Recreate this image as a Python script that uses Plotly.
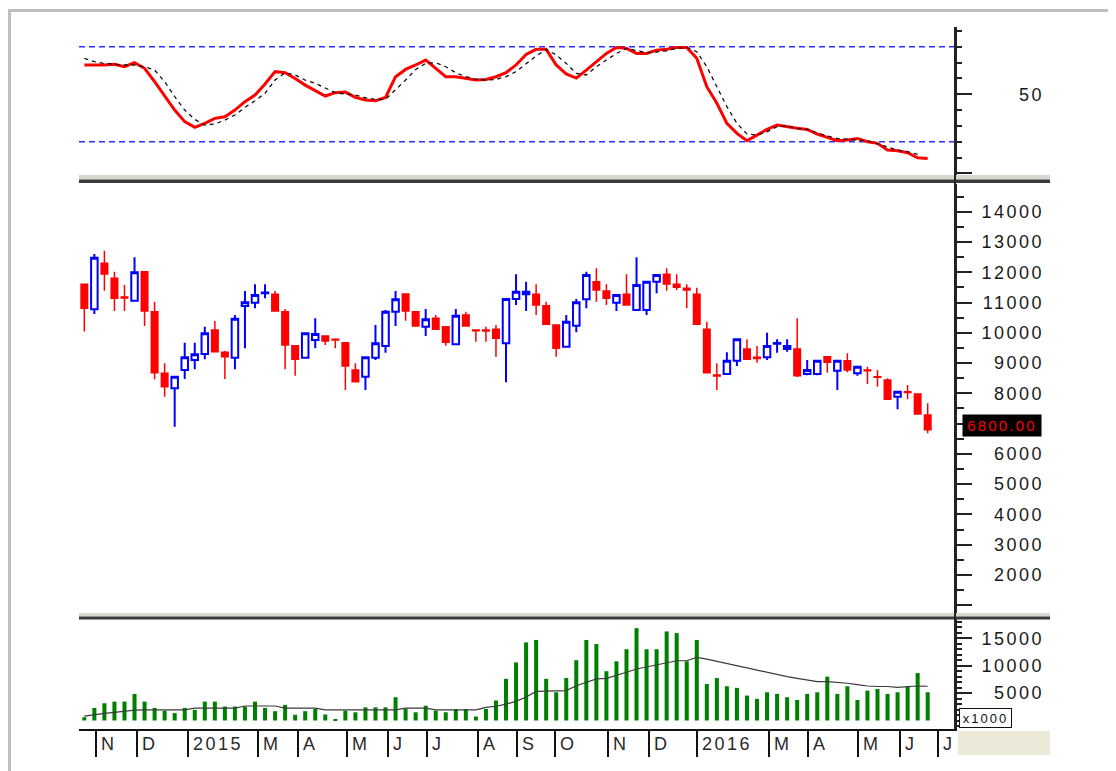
import plotly.graph_objects as go

# ---------------- data ----------------
idx = list(range(85))  # weekly bars

opens = [11600, 10776, 12295, 11800, 11180, 11062, 12020, 10699, 8662, 8166,
         8772, 9102, 9300, 10093, 9355, 9179, 10886, 10996, 11310, 11271,
         10699, 9576, 9179, 9763, 9895, 9785, 9675, 8772, 8552, 9179,
         9565, 10699, 11282, 10699, 10203, 10478, 10203, 9620, 10588, 10093,
         10093, 10115, 9653, 11117, 11271, 11271, 10897, 10258, 9543, 10236,
         11106, 11689, 11381, 10996, 11271, 10754, 10754, 11689, 11932, 11601,
         11469, 11271, 10115, 8607, 8640, 9080, 9465, 9190, 9190, 9640,
         9465, 9465, 8640, 8640, 9212, 8750, 9080, 8662, 8772, 8552,
         8442, 7891, 8056, 7979, 7285]
highs = [11600, 12603, 12713, 12020, 11579, 12493, 12020, 11029, 8992, 8552,
         9675, 9675, 10203, 10390, 9400, 10588, 11381, 11601, 11601, 11381,
         10787, 9576, 9983, 10478, 9895, 9785, 9675, 8992, 9190, 10258,
         10750, 11381, 11282, 10699, 10787, 10588, 10203, 10787, 10699, 10093,
         10203, 10258, 11117, 11932, 11689, 11601, 11029, 10258, 10588, 11117,
         12020, 12130, 11601, 11249, 11932, 12493, 11689, 11910, 12130, 11932,
         11601, 11491, 10368, 8992, 9355, 9785, 9785, 9565, 10005, 9785,
         9785, 10478, 9102, 9080, 9212, 9080, 9322, 8882, 8882, 8772,
         8500, 8056, 8276, 7979, 7671]
lows = [10040, 10621, 11392, 10721, 10721, 11029, 10225, 8464, 7891, 6900,
        8475, 8794, 9124, 9377, 8475, 8794, 9487, 10809, 11139, 10721,
        8794, 8585, 9179, 9487, 9598, 9487, 8111, 8386, 8111, 9100,
        9344, 10225, 10401, 10225, 9895, 10115, 9576, 9600, 10225, 9708,
        9708, 9212, 8364, 10919, 10721, 10588, 10280, 9212, 9543, 10016,
        10809, 11029, 10919, 10721, 10919, 10721, 10588, 11304, 11392, 11414,
        10809, 10280, 8684, 8111, 8640, 8904, 9124, 9014, 9102, 9344,
        9377, 8540, 8600, 8600, 8684, 8111, 8700, 8585, 8309, 8221,
        7803, 7473, 7803, 7318, 6680]
closes = [10810, 12482, 11943, 11139, 11150, 11998, 10721, 8684, 8221, 8552,
          9190, 9289, 9983, 9377, 9212, 10467, 11007, 11249, 11330, 10721,
          9598, 9124, 9983, 9961, 9730, 9760, 8904, 8386, 9190, 9653,
          10699, 11106, 10721, 10225, 10445, 10115, 9686, 10566, 10225, 10070,
          10060, 9818, 11117, 11359, 11359, 10919, 10280, 9487, 10368, 11007,
          11910, 11414, 11139, 11249, 10919, 11579, 11689, 11910, 11612, 11502,
          11414, 10280, 8684, 8570, 9080, 9785, 9124, 9150, 9565, 9660,
          9565, 8585, 8772, 9080, 9025, 9080, 8772, 8882, 8750, 8530,
          7803, 8056, 8030, 7318, 6800]

volume = [600, 2300, 3150, 3450, 3450, 4850, 3450, 2300, 1800, 1350,
          2300, 1950, 3450, 3450, 2550, 2550, 2550, 3450, 2300, 1700,
          2850, 1050, 1700, 2100, 1100, 150, 1800, 1500, 2400, 2400,
          2400, 4250, 2100, 1500, 2700, 1800, 1500, 2100, 2100, 730,
          2100, 3650, 7600, 10600, 14250, 14700, 7600, 5150, 7750, 11000,
          14700, 13950, 9000, 10800, 13000, 16850, 13000, 13000, 16250, 15950,
          10800, 14700, 6650, 7750, 6250, 5950, 4550, 3950, 5150, 4850,
          4250, 3750, 4850, 5150, 8000, 4850, 6250, 3750, 5450, 5750,
          4850, 5150, 6250, 8650, 5150]
vol_ma = [800, 1100, 1300, 1500, 1700, 1900, 1950, 1950, 1950, 1950,
          1950, 2250, 2250, 2250, 2250, 2250, 2650, 2650, 2650, 2650,
          2250, 2250, 2250, 2250, 1950, 1950, 1950, 1950, 1950, 1950,
          1950, 1950, 2250, 2250, 2250, 1950, 1950, 1950, 1950, 1950,
          2400, 2600, 3000, 3500, 4300, 5300, 5350, 5350, 5450, 6350,
          7000, 7600, 7700, 8200, 8800, 9400, 9800, 10200, 10600, 10900,
          10900, 11500, 11200, 10800, 10400, 10000, 9600, 9100, 8700, 8300,
          8000, 7700, 7400, 7100, 7100, 7000, 6800, 6550, 6300, 6200,
          6200, 6050, 6200, 6300, 6250]

stoch_k = [68.5, 68.5, 68.5, 69.0, 67.4, 70.0, 66.4, 58.0, 48.9, 40.0,
           32.7, 29.1, 31.6, 34.8, 35.8, 40.0, 45.3, 49.5, 56.5, 64.3,
           63.6, 60.0, 55.8, 52.3, 48.9, 51.0, 51.4, 48.0, 46.4, 45.9,
           48.0, 61.1, 65.7, 68.5, 71.6, 66.4, 61.1, 61.1, 60.0, 59.0,
           59.4, 61.1, 63.6, 68.5, 75.2, 78.4, 78.4, 68.5, 62.8, 60.2,
           65.3, 70.6, 75.8, 79.6, 79.0, 75.8, 75.8, 77.9, 78.4, 79.6,
           79.6, 72.7, 54.8, 44.3, 31.6, 25.3, 20.7, 24.2, 27.8, 30.6,
           29.5, 28.5, 27.8, 24.9, 22.8, 20.7, 21.1, 22.1, 20.0, 19.0,
           14.8, 14.3, 13.1, 9.9, 9.5]
stoch_d = [72.7, 70.6, 69.5, 68.9, 68.5, 68.5, 67.4, 65.3, 58.0, 48.5,
           40.0, 34.1, 30.6, 31.2, 33.7, 36.9, 41.7, 45.9, 50.6, 59.0,
           63.6, 62.2, 59.0, 56.9, 53.7, 51.0, 50.2, 49.5, 47.8, 46.8,
           46.8, 52.7, 59.0, 65.7, 69.5, 69.9, 67.4, 63.6, 61.1, 59.4,
           59.0, 59.4, 61.1, 64.3, 69.5, 74.2, 78.4, 74.8, 69.5, 63.2,
           62.2, 67.4, 71.6, 75.8, 79.0, 77.5, 76.3, 76.7, 77.5, 79.0,
           79.6, 76.9, 67.4, 54.8, 42.2, 31.6, 24.9, 24.2, 26.3, 29.5,
           29.9, 28.5, 27.8, 25.7, 23.6, 22.1, 21.7, 21.1, 20.7, 18.6,
           16.9, 14.8, 13.7, 12.0, None]

stoch_levels = [80, 20]
stoch_ticks = [50]
price_ticks = [2000, 3000, 4000, 5000, 6000, 8000, 9000, 10000, 11000, 12000, 13000, 14000]
volume_ticks = [5000, 10000, 15000]
month_labels = ["N", "D", "2015", "M", "A", "M", "J", "J", "A", "S",
                "O", "N", "D", "2016", "M", "A", "M", "J", "J"]
month_pos = [1.2, 5.2, 10.3, 17.3, 21.3, 26.2, 30.2, 34.1, 39.2, 43.1,
             46.9, 52.2, 56.2, 61.0, 68.2, 72.1, 77.1, 81.2, 85.0]
last_price = 6800
volume_unit = "x1000"

# ---------------- geometry helpers ----------------
W, H = 1116, 771
OFF = 8  # page body margin of the browser
L, R, T, B = 79, 1050, 27, 729  # plot-area edges in screenshot pixels
PW, PH = R - L, B - T


def px(x):
    return (x - L) / PW


def py(y):
    return (B - y) / PH


FONT = "Liberation Sans, Arial, sans-serif"
XR = px(955)


def sp(t, ls=2.5):
    return f'<span style="letter-spacing:{ls}px">{t}</span>'


fig = go.Figure()

# stochastic panel
fig.add_trace(go.Scatter(x=idx, y=stoch_k, mode="lines", xaxis="x", yaxis="y",
                         line=dict(color="#FF0000", width=3), showlegend=False, hoverinfo="skip"))
fig.add_trace(go.Scatter(x=idx, y=stoch_d, mode="lines", xaxis="x", yaxis="y",
                         line=dict(color="#111111", width=1.3, dash="4px,4px"),
                         showlegend=False, hoverinfo="skip"))

# price panel
fig.add_trace(go.Candlestick(x=idx, open=opens, high=highs, low=lows, close=closes,
                             xaxis="x", yaxis="y2", whiskerwidth=0,
                             increasing=dict(line=dict(color="#0000FF", width=2), fillcolor="white"),
                             decreasing=dict(line=dict(color="#FF0000", width=1.5), fillcolor="#FF0000"),
                             showlegend=False, hoverinfo="skip"))

# volume panel
fig.add_trace(go.Bar(x=idx, y=volume, xaxis="x", yaxis="y3", width=0.4,
                     marker=dict(color="#008000", line=dict(width=0)),
                     showlegend=False, hoverinfo="skip"))
fig.add_trace(go.Scatter(x=idx, y=vol_ma, mode="lines", xaxis="x", yaxis="y3",
                         line=dict(color="#3A3A3A", width=1.2), showlegend=False, hoverinfo="skip"))

# dummy traces so the label axes are drawn
for ya in ["y4", "y5", "y6"]:
    fig.add_trace(go.Scatter(x=[None], y=[None], xaxis="x", yaxis=ya, showlegend=False, hoverinfo="skip"))

stoch_range = [-1.0, 92.5]
price_range = [745, 14915]
vol_range = [-1550, 18520]

dom_s = [py(175), 1.0]
dom_p = [py(613), py(184)]
dom_v = [0.0, py(619)]

tick_axis = dict(side="right", anchor="x", showline=True, linecolor="#222222", linewidth=2,
                 ticks="outside", tickcolor="#222222", tickwidth=1.5, ticklen=15,
                 showticklabels=False, showgrid=False, zeroline=False, fixedrange=True)
lab_font = dict(family=FONT, size=18, color="#1a1a1a")
lab_pos = px(1044)
label_axis = dict(anchor="free", position=lab_pos, side="left", showline=False, ticks="",
                  showgrid=False, zeroline=False, tickfont=lab_font, fixedrange=True,
                  tickmode="array")

fig.update_layout(
    width=W, height=H, autosize=False,
    margin=dict(l=L - OFF, r=W - (R - OFF), t=T - OFF, b=H - (B - OFF), pad=0),
    paper_bgcolor="white", plot_bgcolor="white",
    boxgap=0.35, boxgroupgap=0,
    xaxis=dict(domain=[0, XR], range=[-0.53, 86.72], anchor="y3",
               showline=True, linecolor="#111111", linewidth=2,
               ticks="outside", ticklen=26, tickwidth=1.5, tickcolor="#111111",
               tickmode="array", tickvals=month_pos, showticklabels=False,
               showgrid=False, zeroline=False, rangeslider=dict(visible=False), fixedrange=True),
    yaxis=dict(domain=dom_s, range=stoch_range, tickmode="array", tickvals=[0, 50],
               minor=dict(ticks="outside", ticklen=5, dtick=10, tick0=0, tickcolor="#222222", showgrid=False),
               **tick_axis),
    yaxis2=dict(domain=dom_p, range=price_range, tickmode="linear", tick0=0, dtick=1000,
                minor=dict(ticks="outside", ticklen=7, dtick=500, tick0=0, tickcolor="#222222", showgrid=False),
                **tick_axis),
    yaxis3=dict(domain=dom_v, range=vol_range, tickmode="linear", tick0=0, dtick=5000,
                minor=dict(ticks="outside", ticklen=5, dtick=1000, tick0=0, tickcolor="#222222", showgrid=False),
                **tick_axis),
    yaxis4=dict(overlaying="y", range=stoch_range, tickvals=stoch_ticks,
                ticktext=[sp(str(v)) for v in stoch_ticks], **label_axis),
    yaxis5=dict(overlaying="y2", range=price_range, tickvals=price_ticks,
                ticktext=[sp(str(v)) for v in price_ticks], **label_axis),
    yaxis6=dict(overlaying="y3", range=vol_range, tickvals=volume_ticks,
                ticktext=[sp(str(v)) for v in volume_ticks], **label_axis),
)

shapes = []
# stochastic reference levels
for lv in stoch_levels:
    shapes.append(dict(type="line", xref="x domain", yref="y", x0=0, x1=1, y0=lv, y1=lv,
                       line=dict(color="#2F2FFF", width=1.6, dash="6px,4px"), layer="below"))
# panel separators
for y_light0, y_light1, y_dark1 in [(175, 179.5, 183), (613, 616.5, 619.5)]:
    shapes.append(dict(type="rect", xref="paper", yref="paper", x0=0, x1=1,
                       y0=py(y_light1), y1=py(y_light0), fillcolor="#DAD8CE", line=dict(width=0)))
    shapes.append(dict(type="rect", xref="paper", yref="paper", x0=0, x1=1,
                       y0=py(y_dark1), y1=py(y_light1), fillcolor="#3A3A3A", line=dict(width=0)))
# vertical axis line across the whole height
shapes.append(dict(type="line", xref="paper", yref="paper", x0=XR, x1=XR, y0=0, y1=1,
                   line=dict(color="#222222", width=2)))
# grey box right of the date axis
shapes.append(dict(type="rect", xref="paper", yref="paper", x0=px(958), x1=1,
                   y0=py(755), y1=py(731), fillcolor="#ECE9D8", line=dict(width=0)))
# outer frame
shapes.append(dict(type="rect", xref="paper", yref="paper", x0=px(9.5), x1=px(1111.5),
                   y0=py(790), y1=py(10.5), line=dict(color="#C0C0C0", width=3)))
fig.update_layout(shapes=shapes)

ann = []
for lab, pos in zip(month_labels, month_pos):
    ann.append(dict(x=pos, xref="x", y=py(744), yref="paper", text=sp(lab, 2.5), showarrow=False,
                    xanchor="left", yanchor="middle", xshift=3,
                    font=dict(family=FONT, size=18, color="#2a2a2a")))
ann.append(dict(x=px(962), xref="paper", y=last_price, yref="y2", yshift=4,
                text=sp(f"{last_price:.2f}", 2.2), showarrow=False, xanchor="left", yanchor="middle",
                bgcolor="black", width=78, height=21, borderpad=0,
                font=dict(family=FONT, size=15, color="#FF0000")))
ann.append(dict(x=px(959), xref="paper", y=py(728), yref="paper", text=sp(volume_unit, 2),
                showarrow=False, xanchor="left", yanchor="bottom", bgcolor="white",
                bordercolor="#111111", borderwidth=1, borderpad=1, width=49, height=16,
                font=dict(family=FONT, size=13, color="#111111")))
fig.update_layout(annotations=ann)

fig.write_html("out.html")
